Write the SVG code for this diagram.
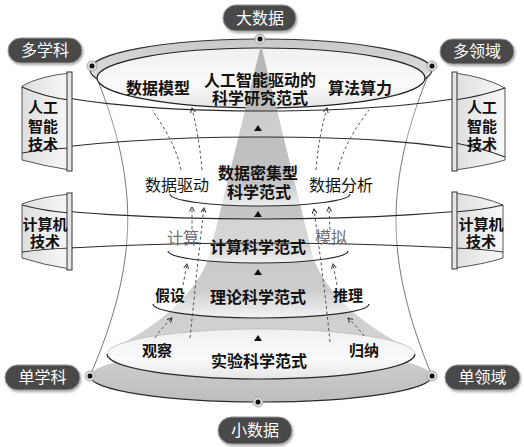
<svg xmlns="http://www.w3.org/2000/svg" width="524" height="447" viewBox="0 0 524 447">
<defs>
<style>
text{font-family:"Liberation Sans","Noto Sans CJK SC",sans-serif;text-anchor:middle;dominant-baseline:central;fill:#111}
.t16{font-size:16px;font-weight:bold}
.lab{font-size:16px}
.lb{font-size:15px;font-weight:bold}
.gray{fill:#6e6e6e;font-size:16px}
.box{font-size:15px;font-weight:bold}
.pill text{fill:#fff;font-size:16px}
.pill rect{fill:#4a4a4a;stroke:#9a9a9a;stroke-width:1}
.rib{fill:#fff;fill-opacity:0.25;stroke:none}
.edge{fill:none;stroke:#2a2a2a;stroke-width:1.2}
.dash{fill:none;stroke:#444;stroke-width:0.9;stroke-dasharray:3 2.5}
.hg{fill:none;stroke:#555;stroke-width:0.8}
.bar{fill:#e6e6e6;stroke:#333;stroke-width:1}
.bx{fill:url(#boxg);stroke:#444;stroke-width:0.9}
.tri{fill:#111}
.dot circle.r{fill:#ddd;stroke:#999;stroke-width:0.8}
.dot circle.c{fill:#111}
</style>
<linearGradient id="coneg" x1="0" y1="0" x2="0" y2="1">
<stop offset="0" stop-color="#b5b5b5"/><stop offset="1" stop-color="#d3d3d3"/>
</linearGradient>
<linearGradient id="rimg" x1="0" y1="0" x2="0" y2="1">
<stop offset="0" stop-color="#c9c9c9"/><stop offset="1" stop-color="#e9e9e9"/>
</linearGradient>
<linearGradient id="innerg" x1="0" y1="0" x2="0" y2="1">
<stop offset="0" stop-color="#f0f0f0"/><stop offset="0.6" stop-color="#fafafa"/><stop offset="1" stop-color="#e6e6e6"/>
</linearGradient>
<linearGradient id="lvlg" x1="0" y1="0" x2="0" y2="1">
<stop offset="0" stop-color="#fff" stop-opacity="0"/><stop offset="1" stop-color="#fff" stop-opacity="0.75"/>
</linearGradient>
<linearGradient id="botg" x1="0" y1="0" x2="0" y2="1">
<stop offset="0" stop-color="#d2d2d2"/><stop offset="1" stop-color="#bdbdbd"/>
</linearGradient>
<linearGradient id="boxg" x1="0" y1="0" x2="1" y2="0">
<stop offset="0" stop-color="#dedede"/><stop offset="1" stop-color="#f8f8f8"/>
</linearGradient>
<marker id="ah" viewBox="0 0 6 6" refX="5" refY="3" markerWidth="6" markerHeight="6" orient="auto" markerUnits="userSpaceOnUse">
<path d="M0.5,0.5 L5,3 L0.5,5.5" fill="none" stroke="#333" stroke-width="1"/>
</marker>
<filter id="sh" x="-20%" y="-30%" width="140%" height="170%">
<feDropShadow dx="1" dy="1.5" stdDeviation="1.2" flood-color="#000" flood-opacity="0.35"/>
</filter>
</defs>
<rect width="524" height="447" fill="#fff"/>

<g id="hourglass">
<path class="hg" d="M92,66 C140,180 140,260 90,376"/>
<path class="hg" d="M432,66 C384,180 384,260 432,376"/>
</g>

<g id="top-disc">
<ellipse cx="261" cy="70" rx="171" ry="31" fill="url(#rimg)" stroke="#333" stroke-width="1.2"/>
<ellipse cx="261" cy="78" rx="164" ry="30" fill="url(#innerg)" stroke="#222" stroke-width="1.2"/>
</g>

<g id="cone">
<path d="M261,45 L209,257 Q190,310 110,350 L412,350 Q332,310 313,257 Z" fill="url(#coneg)"/>
</g>

<g id="bottom-disc">
<ellipse cx="261" cy="376" rx="171" ry="26" fill="url(#botg)" stroke="none"/>
<path class="edge" d="M90,376 A171,26 0 0 0 432,376"/>
<ellipse cx="261" cy="354" rx="154" ry="25" fill="url(#innerg)" stroke="#bbb" stroke-width="0.8"/>
<path class="edge" d="M107,354 A154,25 0 0 0 415,354"/>
</g>

<g id="levels">
<ellipse cx="260" cy="194" rx="90" ry="12" fill="url(#lvlg)"/>
<path class="edge" d="M170,194 A90,12 0 0 0 350,194"/>
<ellipse cx="258" cy="251" rx="90" ry="12" fill="url(#lvlg)"/>
<path class="edge" d="M168,251 A90,12 0 0 0 348,251"/>
<ellipse cx="261" cy="304" rx="108" ry="14" fill="url(#lvlg)"/>
<path class="edge" d="M153,304 A108,14 0 0 0 369,304"/>
</g>

<g id="ribbon-ai">
<path class="rib" d="M22,87 C60,100 140,111 262,111 C384,111 464,100 505,88 L505,157 C424,140 344,137 262,137 C180,137 100,140 22,153 Z"/>
<path class="edge" d="M22,87 C60,100 140,111 262,111 C384,111 464,100 505,88"/>
<path class="edge" d="M22,153 C100,140 180,137 262,137 C344,137 424,140 505,157"/>
</g>

<g id="ribbon-cs">
<path class="rib" d="M22,205 C50,212 150,219 262,219 C374,219 470,212 503,205 L503,252 C470,248 374,243 262,243 C150,243 50,248 22,252 Z"/>
<path class="edge" d="M22,205 C50,212 150,219 262,219 C374,219 470,212 503,205"/>
<path class="edge" d="M22,252 C50,248 150,243 262,243 C374,243 470,248 503,252"/>
</g>

<g id="box-ai-left">
<path class="bx" d="M70,73 Q40,76 22,86 L22,160 Q44,166 70,170 Z"/>
<path class="edge" d="M22,87 Q44,97 70,100"/>
<path class="edge" d="M22,153 Q44,149 70,148"/>
<rect class="bar" x="67" y="72" width="5" height="99"/>
<text class="box" x="43" y="107">人工</text>
<text class="box" x="43" y="126">智能</text>
<text class="box" x="43" y="144">技术</text>
</g>
<g id="box-ai-right">
<path class="bx" d="M455,73 Q485,77 505,88 L505,160 Q485,166 455,170 Z"/>
<path class="edge" d="M455,100 Q482,96 505,88"/>
<path class="edge" d="M455,143 Q482,148 505,157"/>
<rect class="bar" x="452" y="72" width="5" height="99"/>
<text class="box" x="482" y="107">人工</text>
<text class="box" x="482" y="126">智能</text>
<text class="box" x="482" y="144">技术</text>
</g>
<g id="box-cs-left">
<path class="bx" d="M70,194 Q40,197 22,204 L22,258 Q44,265 70,269 Z"/>
<path class="edge" d="M22,205 Q44,211 70,213"/>
<path class="edge" d="M22,252 Q44,249 70,248"/>
<rect class="bar" x="67" y="193" width="5" height="77"/>
<text class="box" x="45" y="224">计算机</text>
<text class="box" x="45" y="241">技术</text>
</g>
<g id="box-cs-right">
<path class="bx" d="M455,193 Q485,197 503,205 L503,258 Q485,264 455,268 Z"/>
<path class="edge" d="M455,212 Q482,210 503,205"/>
<path class="edge" d="M455,248 Q482,249 503,252"/>
<rect class="bar" x="452" y="192" width="5" height="77"/>
<text class="box" x="481" y="224">计算机</text>
<text class="box" x="481" y="241">技术</text>
</g>

<g id="connectors">
<path class="dash" d="M181,170 C176,145 163,126 152,110"/>
<path class="dash" d="M202,170 C200,145 196,125 192,108" marker-end="url(#ah)"/>
<path class="dash" d="M316,170 C318,145 322,125 327,108" marker-end="url(#ah)"/>
<path class="dash" d="M338,170 C344,145 357,126 369,110"/>
<path class="dash" d="M192,229 L192,207" marker-end="url(#ah)"/>
<path class="dash" d="M190,338 C195,290 200,240 204,208" marker-end="url(#ah)"/>
<path class="dash" d="M330,342 C325,290 318,240 314,209" marker-end="url(#ah)"/>
<path class="dash" d="M330,230 L329,207" marker-end="url(#ah)"/>
<path class="dash" d="M183,285 L187,264" marker-end="url(#ah)"/>
<path class="dash" d="M337,285 L333,264" marker-end="url(#ah)"/>
<path class="dash" d="M155,338 C160,330 166,324 172,318" marker-end="url(#ah)"/>
<path class="dash" d="M364,336 C360,330 354,324 348,318" marker-end="url(#ah)"/>
</g>

<g id="arrows-up">
<path class="tri" d="M258,125 L262,131 L254,131 Z"/>
<path class="tri" d="M258,211 L262,217 L254,217 Z"/>
<path class="tri" d="M258,269 L262,275 L254,275 Z"/>
<path class="tri" d="M258,335 L262,341 L254,341 Z"/>
</g>

<g id="labels">
<text class="t16" x="260" y="80">人工智能驱动的</text>
<text class="t16" x="260" y="98">科学研究范式</text>
<text class="t16" x="158" y="88">数据模型</text>
<text class="t16" x="360" y="88">算法算力</text>
<text class="lab" x="177" y="185">数据驱动</text>
<text class="lab" x="341" y="185">数据分析</text>
<text class="t16" x="258" y="173">数据密集型</text>
<text class="t16" x="259" y="192">科学范式</text>
<text class="gray" x="183" y="238">计算</text>
<text class="t16" x="258" y="247">计算科学范式</text>
<text class="gray" x="331" y="237">模拟</text>
<text class="lb" x="170" y="295">假设</text>
<text class="t16" x="258" y="297">理论科学范式</text>
<text class="lb" x="348" y="295">推理</text>
<text class="lb" x="157" y="350">观察</text>
<text class="t16" x="259" y="361">实验科学范式</text>
<text class="lb" x="364" y="350">归纳</text>
</g>

<g id="dots">
<g class="dot"><circle class="r" cx="260" cy="39" r="5"/><circle class="c" cx="260" cy="39" r="2.5"/></g>
<g class="dot"><circle class="r" cx="92" cy="66" r="5"/><circle class="c" cx="92" cy="66" r="2.5"/></g>
<g class="dot"><circle class="r" cx="432" cy="66" r="5"/><circle class="c" cx="432" cy="66" r="2.5"/></g>
<g class="dot"><circle class="r" cx="90" cy="376" r="5"/><circle class="c" cx="90" cy="376" r="2.5"/></g>
<g class="dot"><circle class="r" cx="432" cy="376" r="5"/><circle class="c" cx="432" cy="376" r="2.5"/></g>
<g class="dot"><circle class="r" cx="258" cy="402" r="5"/><circle class="c" cx="258" cy="402" r="2.5"/></g>
</g>

<g id="pill-big-data" class="pill"><rect x="223" y="5" width="73" height="26" rx="13" filter="url(#sh)"/><text x="260" y="18">大数据</text></g>
<g id="pill-multi-discipline" class="pill"><rect x="8" y="38" width="74" height="25" rx="12.5" filter="url(#sh)"/><text x="45" y="50.5">多学科</text></g>
<g id="pill-multi-domain" class="pill"><rect x="440" y="39" width="74" height="25" rx="12.5" filter="url(#sh)"/><text x="477" y="51.5">多领域</text></g>
<g id="pill-single-discipline" class="pill"><rect x="5" y="365" width="75" height="25" rx="12.5" filter="url(#sh)"/><text x="42.5" y="377.5">单学科</text></g>
<g id="pill-single-domain" class="pill"><rect x="445" y="365" width="75" height="25" rx="12.5" filter="url(#sh)"/><text x="482.5" y="377.5">单领域</text></g>
<g id="pill-small-data" class="pill"><rect x="218" y="417" width="74" height="27" rx="13.5" filter="url(#sh)"/><text x="255" y="430.5">小数据</text></g>
</svg>
